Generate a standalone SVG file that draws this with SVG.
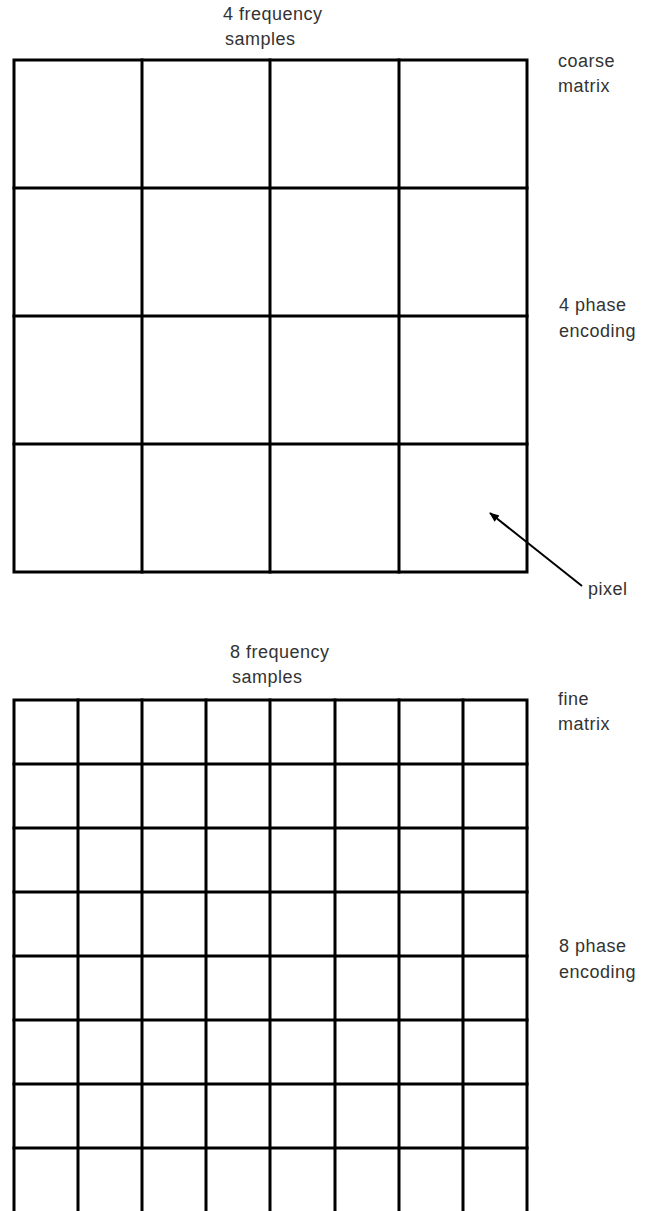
<svg xmlns="http://www.w3.org/2000/svg" width="647" height="1211" viewBox="0 0 647 1211">
<defs>
<style>
.grid{stroke:#000;stroke-width:3;fill:none;stroke-linecap:square}
.lbl{font-family:"Liberation Sans","DejaVu Sans",sans-serif;font-size:18px;letter-spacing:0.5px;fill:#333}
.conn{stroke:#000;stroke-width:2;fill:none}
</style>
<marker id="ah" markerWidth="10" markerHeight="10" refX="9" refY="5" orient="auto" markerUnits="userSpaceOnUse">
<path d="M0,1 L10,5 L0,9 Z" fill="#000"/>
</marker>
</defs>
<rect width="647" height="1211" fill="#fff"/>
<g id="coarse-matrix">
<rect class="grid" x="14" y="60" width="513" height="512"/>
<path class="grid" d="M142,60V572M270,60V572M399,60V572M14,188H527M14,316H527M14,444H527"/>
</g>
<g id="fine-matrix">
<rect class="grid" x="14" y="700" width="513" height="560"/>
<path class="grid" d="M78,700V1215M142,700V1215M206,700V1215M270,700V1215M335,700V1215M399,700V1215M463,700V1215M14,764H527M14,828H527M14,892H527M14,956H527M14,1020H527M14,1084H527M14,1148H527"/>
</g>
<g id="labels">
<text class="lbl" x="223" y="20">4 frequency</text>
<text class="lbl" x="225" y="45">samples</text>
<text class="lbl" x="558" y="67">coarse</text>
<text class="lbl" x="558" y="92">matrix</text>
<text class="lbl" x="559" y="311">4 phase</text>
<text class="lbl" x="559" y="337">encoding</text>
<text class="lbl" x="588" y="595">pixel</text>
<text class="lbl" x="230" y="658">8 frequency</text>
<text class="lbl" x="232" y="683">samples</text>
<text class="lbl" x="558" y="705">fine</text>
<text class="lbl" x="558" y="730">matrix</text>
<text class="lbl" x="559" y="952">8 phase</text>
<text class="lbl" x="559" y="978">encoding</text>
</g>
<g id="connectors">
<line class="conn" x1="582" y1="586" x2="490" y2="513" marker-end="url(#ah)"/>
</g>
</svg>
